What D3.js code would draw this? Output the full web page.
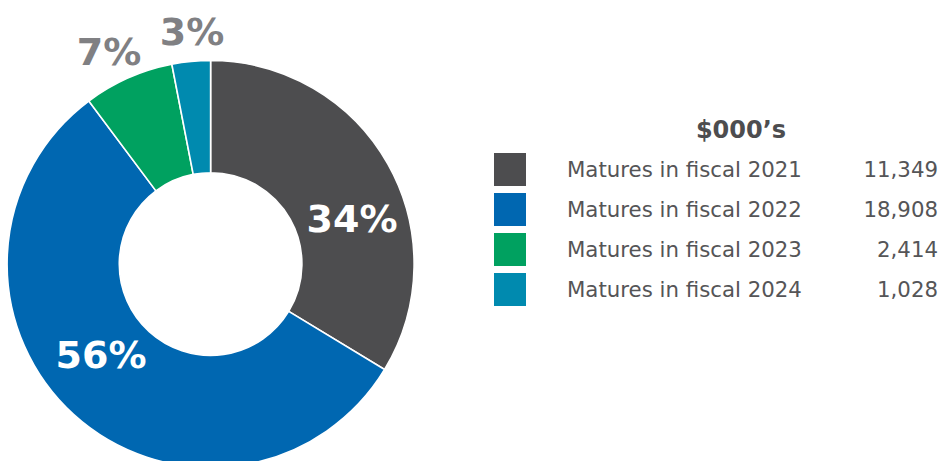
<!DOCTYPE html>
<html>
<head>
<meta charset="utf-8">
<script src="https://cdn.jsdelivr.net/npm/d3@7"></script>
<style>
  html, body { margin: 0; padding: 0; background: #fff; }
  svg { display: block; }
</style>
</head>
<body>
<svg id="chart" width="952" height="461"></svg>
<script>
// Debt maturity schedule, $000's
const categories = ["Matures in fiscal 2021", "Matures in fiscal 2022", "Matures in fiscal 2023", "Matures in fiscal 2024"];
const values = [11349, 18908, 2414, 1028];
const valueLabels = ["11,349", "18,908", "2,414", "1,028"];
const percentLabels = ["34%", "56%", "7%", "3%"];
const colors = ["#4d4d4f", "#0067b1", "#00a160", "#008aaf"];

const FONT = "'DejaVu Sans', 'Open Sans', sans-serif";
const svg = d3.select("#chart");
const cx = 210.6, cy = 264;
const outerR = 203.5, innerR = 91.3;

const data = categories.map((c, i) => ({ name: c, value: values[i], label: valueLabels[i], pct: percentLabels[i], color: colors[i] }));

const pie = d3.pie().value(d => d.value).sort(null).startAngle(0).endAngle(2 * Math.PI);
const arc = d3.arc().innerRadius(innerR).outerRadius(outerR);

const g = svg.append("g").attr("transform", `translate(${cx},${cy})`);
g.selectAll("path.slice")
  .data(pie(data))
  .join("path")
  .attr("class", "slice")
  .attr("d", arc)
  .attr("fill", d => d.data.color)
  .attr("stroke", "#fff")
  .attr("stroke-width", 1.6);

// Percentage labels: large slices get white labels inside, small ones grey labels outside
const labelSpots = [
  { x: 352, y: 232, fill: "#fff" },
  { x: 101, y: 368, fill: "#fff" },
  { x: 109, y: 65, fill: "#808083" },
  { x: 192, y: 45, fill: "#808083" }
];
svg.selectAll("text.pct")
  .data(data)
  .join("text")
  .attr("class", "pct")
  .attr("x", (d, i) => labelSpots[i].x)
  .attr("y", (d, i) => labelSpots[i].y)
  .attr("text-anchor", "middle")
  .attr("fill", (d, i) => labelSpots[i].fill)
  .style("font-family", FONT)
  .style("font-weight", 700)
  .style("font-size", "38px")
  .text(d => d.pct);

// Legend
const legend = svg.append("g");
legend.append("text")
  .attr("x", 741).attr("y", 138)
  .attr("text-anchor", "middle")
  .attr("fill", "#4d4d4f")
  .style("font-family", FONT)
  .style("font-weight", 700)
  .style("font-size", "24px")
  .text("$000\u2019s");

const rowY = d3.scaleBand().domain(categories).range([150, 310]).paddingInner(0);
const rows = legend.selectAll("g.row").data(data).join("g").attr("class", "row")
  .attr("transform", d => `translate(0,${rowY(d.name)})`);
rows.append("rect")
  .attr("x", 494).attr("y", 3)
  .attr("width", 32).attr("height", 33)
  .attr("fill", d => d.color);
rows.append("text")
  .attr("x", 567).attr("y", 27)
  .attr("fill", "#555557")
  .style("font-family", FONT)
  .style("font-size", "21.3px")
  .text(d => d.name);
rows.append("text")
  .attr("x", 938).attr("y", 27)
  .attr("text-anchor", "end")
  .attr("fill", "#555557")
  .style("font-family", FONT)
  .style("font-size", "21.3px")
  .text(d => d.label);
</script>
</body>
</html>
